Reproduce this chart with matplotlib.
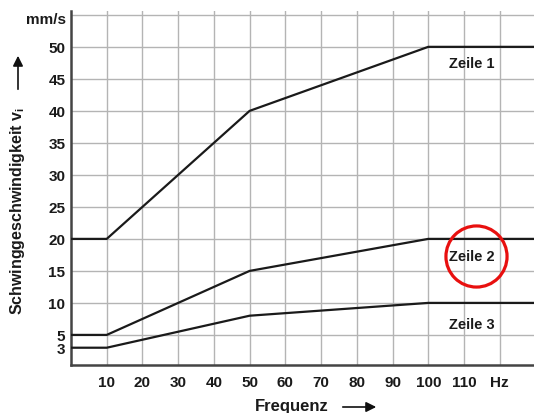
import matplotlib
matplotlib.use("Agg")
import matplotlib.pyplot as plt

# ---- data ----
freq = [0, 10, 50, 100, 130]
zeile1 = [20, 20, 40, 50, 50]
zeile2 = [5, 5, 15, 20, 20]
zeile3 = [3, 3, 8, 10, 10]
x_ticks = [10, 20, 30, 40, 50, 60, 70, 80, 90, 100, 110, 120]
x_labels = ["10", "20", "30", "40", "50", "60", "70", "80", "90", "100", "110", "Hz"]
y_ticks = [3, 5, 10, 15, 20, 25, 30, 35, 40, 45, 50]
labels = ["Zeile 1", "Zeile 2", "Zeile 3"]

plt.rcParams['font.family'] = ['Liberation Sans', 'DejaVu Sans']
plt.rcParams['font.weight'] = 'bold'
TXT = '#1a1a1a'

fig = plt.figure(figsize=(5.34, 4.14), dpi=100)
ax = fig.add_axes([71/534, 1 - 366/414, 1 - 71/534, (366 - 12)/414])
ax.set_xlim(0, 129.6)
ax.set_ylim(0.3, 55.6)

# grid
for x in range(10, 130, 10):
    ax.axvline(x, color='#b4b4b4', lw=1.0, zorder=1)
for y in range(5, 56, 5):
    ax.axhline(y, color='#b4b4b4', lw=1.0, zorder=1)

for s in (zeile1, zeile2, zeile3):
    ax.plot(freq, s, color='#1a1a1a', lw=1.6, zorder=3, solid_capstyle='butt')

ax.set_xticks(x_ticks)
ax.set_xticklabels(x_labels, fontsize=11, fontweight='bold', color=TXT)
ax.set_yticks(y_ticks)
ax.set_yticklabels([str(v) for v in y_ticks], fontsize=11, fontweight='bold', color=TXT)
ax.tick_params(axis='x', length=0, pad=7)
ax.tick_params(axis='y', length=0, pad=4)

for side in ('top', 'right'):
    ax.spines[side].set_visible(False)
for side in ('left', 'bottom'):
    ax.spines[side].set_color('#444444')
    ax.spines[side].set_linewidth(1.8)

ax.text(-1.3, 54.4, "mm/s", ha='right', va='center', fontsize=11, fontweight='bold', color=TXT)

# annotations
ax.text(112.2, 47.5, labels[0], ha='center', va='center', fontsize=10.5, fontweight='bold', color=TXT)
ax.text(112.2, 17.3, labels[1], ha='center', va='center', fontsize=10.5, fontweight='bold', color=TXT)
ax.text(112.2, 6.7, labels[2], ha='center', va='center', fontsize=10.5, fontweight='bold', color=TXT)
ax.plot([113.4], [17.3], marker='o', markersize=44, mfc='none', mec='#e8100f', mew=2.3, zorder=5)

# axis labels
fig.text(18/534, 1 - 315/414, r"Schwinggeschwindigkeit v$_\mathregular{i}$", rotation=90,
         ha='center', va='bottom', fontsize=11.5, fontweight='bold', color=TXT)
fig.add_artist(matplotlib.patches.FancyArrowPatch((18/534, 1 - 93/414), (18/534, 1 - 54/414),
               transform=fig.transFigure, arrowstyle='-|>,head_length=6,head_width=3',
               color='#111111', lw=1.2, mutation_scale=1))
fig.text(292/534, 1 - 407/414, "Frequenz", ha='center', va='center', fontsize=12,
         fontweight='bold', color=TXT)
fig.add_artist(matplotlib.patches.FancyArrowPatch((340/534, 1 - 408/414), (379/534, 1 - 408/414),
               transform=fig.transFigure, arrowstyle='-|>,head_length=6,head_width=3',
               color='#111111', lw=1.2, mutation_scale=1))

fig.savefig("out.png", dpi=100)
